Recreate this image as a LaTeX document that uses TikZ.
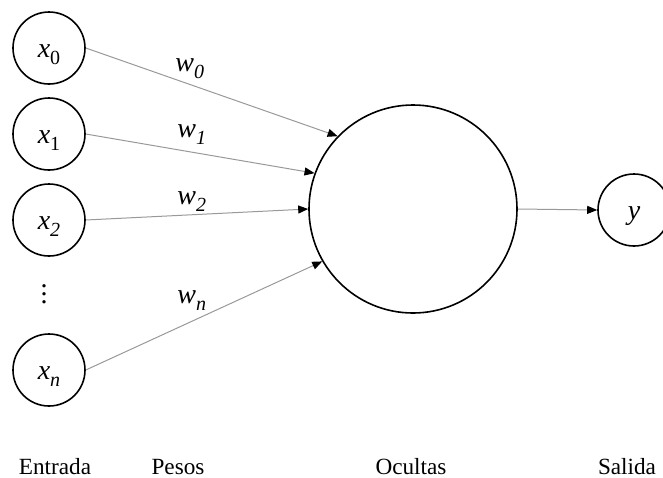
\documentclass[tikz,border=0pt]{standalone}
\usepackage{fontspec}
\setmainfont{Liberation Serif}
\usepackage{tikz}
\usetikzlibrary{arrows.meta}
\newcommand{\sbs}[1]{\raisebox{-3.5pt}{\fontsize{10}{10}\selectfont #1}}
\tikzset{
  nn unit/.style={
    circle,
    draw=black,
    line width=0.8pt,
    minimum size=36pt,
    inner sep=0pt,
    text height=9pt,
    text depth=0pt,
    font=\fontsize{14}{16}\selectfont,
  },
  nn hidden/.style={
    circle,
    draw=black,
    line width=0.8pt,
    minimum size=104pt,
    inner sep=0pt,
  },
  nn weight/.style={anchor=base west, inner sep=0pt, font=\fontsize{14}{16}\selectfont\itshape},
  nn layer/.style={anchor=base, inner sep=0pt, font=\fontsize{11.6}{13}\selectfont},
  nn arrow/.style={-{Triangle[length=5pt,width=4pt,color=black]}, draw=black!40, line width=0.5pt},
}

\begin{document}
\begin{tikzpicture}[x=0.5pt,y=-0.5pt]
  \useasboundingbox (0,0) rectangle (663,477);
  \node[nn unit] (x0) at (49,48) {\textit{x}\sbs{0}};
  \node[nn unit] (x1) at (49,134) {\textit{x}\sbs{1}};
  \node[nn unit] (x2) at (49,220) {\textit{x}\sbs{\textit{2}}};
  \node[inner sep=0pt, font=\fontsize{14}{16}\selectfont] (dots) at (44,294)
    {\vbox{\baselineskip=4pt\lineskiplimit=0pt\hbox{.}\hbox{.}\hbox{.}}};
  \node[nn unit] (xn) at (49,370) {\textit{x}\sbs{\textit{n}}};
  \node[nn hidden] (hid) at (413,209) {};
  \node[nn unit] (y) at (634,210) {\textit{y}};
  % weights
  \draw[nn arrow] (x0.east) -- (hid.136);
  \draw[nn arrow] (x1.east) -- (hid.160);
  \draw[nn arrow] (x2.east) -- (hid.west);
  \draw[nn arrow] (xn.east) -- (hid.210);
  \draw[nn arrow] (hid.east) -- (y.west);
  \node[nn weight] (w0) at (175,71) {w\sbs{0}};
  \node[nn weight] (w1) at (177,137) {w\sbs{1}};
  \node[nn weight] (w2) at (177,204) {w\sbs{2}};
  \node[nn weight] (wn) at (177,303) {w\sbs{n}};
  % layer names
  \node[nn layer] (lin) at (55,474) {Entrada};
  \node[nn layer] (lw) at (178,474) {Pesos};
  \node[nn layer] (lhid) at (411,474) {Ocultas};
  \node[nn layer] (lout) at (627,474) {Salida};
\end{tikzpicture}
\end{document}
